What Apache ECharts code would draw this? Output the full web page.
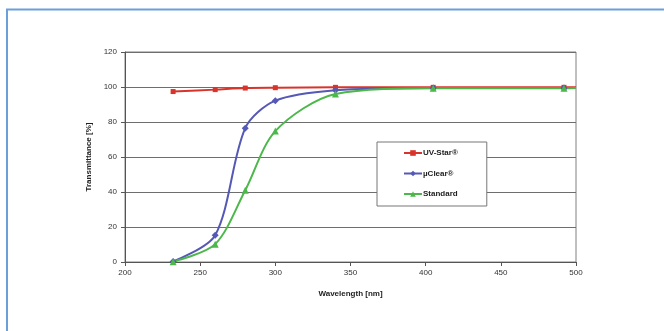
<!DOCTYPE html>
<html>
<head>
<meta charset="utf-8">
<script src="https://cdn.jsdelivr.net/npm/echarts@6/dist/echarts.min.js"></script>
<style>
  html, body { margin: 0; padding: 0; background: #fff; }
  #chart { width: 664px; height: 331px; }
</style>
</head>
<body>
<div id="chart"></div>
<script>
// wavelength [nm] / transmittance [%]
var wavelengths = [232, 260, 280, 300, 340, 405, 492, 500];
var uvStar   = [97.4, 98.5, 99.4, 99.6, 99.8, 99.8, 99.8, 99.8];
var muClear  = [0.3, 15.3, 76.5, 92.2, 98.2, 99.5, 99.5, 99.5];
var standard = [0.2, 10.2, 41, 74.8, 96, 99.3, 99.3, 99.4];
var seriesNames = ['UV-Star®', 'µClear®', 'Standard'];

function pairs(vals) {
    return wavelengths.map(function (w, i) {
        var item = { value: [w, vals[i]] };
        if (i === wavelengths.length - 1) item.symbol = 'none'; // kein Marker am Ende
        return item;
    });
}

var font = 'Liberation Sans, Arial, sans-serif';
var myChart = echarts.init(document.getElementById('chart'));
var option = {
    animation: false,
    backgroundColor: '#fff',
    graphic: [{
        type: 'rect',
        shape: { x: 7, y: 9.5, width: 700, height: 400 },
        style: { fill: 'none', stroke: '#6a9fd8', lineWidth: 2 },
        silent: true
    }],
    grid: { left: 125, right: 88, top: 52, bottom: 69, show: true, borderColor: '#808080', borderWidth: 1 },
    legend: {
        orient: 'vertical',
        left: 377, top: 142,
        padding: [7, 29, 8, 26],
        itemGap: 12.5,
        itemWidth: 18, itemHeight: 7,
        backgroundColor: '#fff',
        borderColor: '#777',
        borderWidth: 1,
        textStyle: { fontFamily: font, fontSize: 8, fontWeight: 'bold', color: '#222', padding: [0, 0, 0, -4] },
        data: seriesNames
    },
    xAxis: {
        type: 'value',
        min: 200, max: 500, interval: 50,
        name: 'Wavelength [nm]',
        nameLocation: 'middle',
        nameGap: 28,
        nameTextStyle: { fontFamily: font, fontSize: 8, fontWeight: 'bold', color: '#222' },
        axisLine: { lineStyle: { color: '#555' } },
        axisTick: { show: true, length: 4, lineStyle: { color: '#555' } },
        axisLabel: { fontFamily: font, fontSize: 8, color: '#333', margin: 7 },
        splitLine: { show: false }
    },
    yAxis: {
        type: 'value',
        min: 0, max: 120, interval: 20,
        name: 'Transmittance [%]',
        nameLocation: 'middle',
        nameGap: 31,
        nameTextStyle: { fontFamily: font, fontSize: 8, fontWeight: 'bold', color: '#222' },
        axisLine: { show: true, lineStyle: { color: '#555' } },
        axisTick: { show: true, length: 4, lineStyle: { color: '#555' } },
        axisLabel: { fontFamily: font, fontSize: 8, color: '#333', margin: 8 },
        splitLine: { lineStyle: { color: '#6e6e6e', width: 1 } }
    },
    series: [{
        name: seriesNames[0],
        type: 'line',
        smooth: 0.3,
        symbol: 'rect', symbolSize: 5,
        color: '#d9342b',
        lineStyle: { width: 2 },
        data: pairs(uvStar)
    }, {
        name: seriesNames[1],
        type: 'line',
        smooth: 0.3,
        symbol: 'diamond', symbolSize: 7,
        color: '#5558b5',
        lineStyle: { width: 2 },
        data: pairs(muClear)
    }, {
        name: seriesNames[2],
        type: 'line',
        smooth: 0.3,
        symbol: 'triangle', symbolSize: 7,
        color: '#4cb84a',
        lineStyle: { width: 2 },
        data: pairs(standard)
    }]
};
myChart.setOption(option);
</script>
</body>
</html>
